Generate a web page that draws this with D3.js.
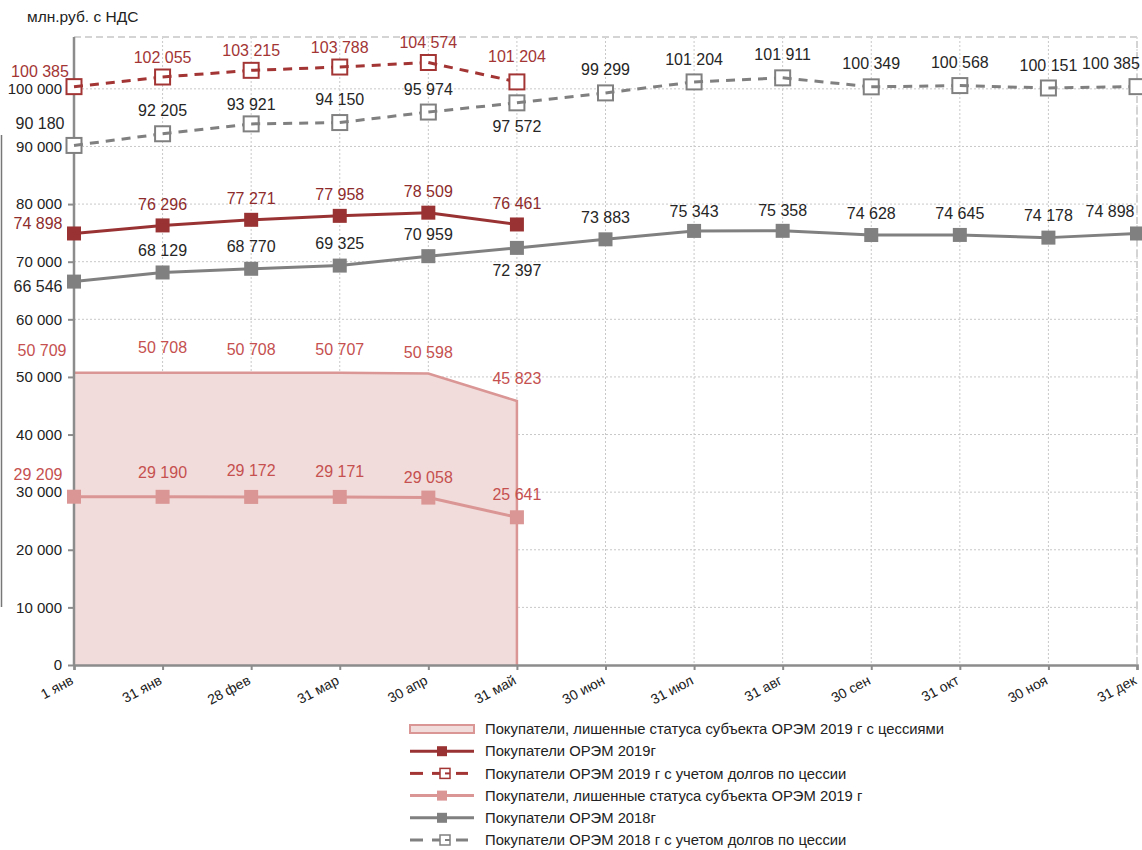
<!DOCTYPE html>
<html>
<head>
<meta charset="utf-8">
<script src="https://cdn.jsdelivr.net/npm/d3@7"></script>
<style>
  body { margin: 0; background: #fff; }
  svg { font-family: "Liberation Sans", Arial, sans-serif; }
</style>
</head>
<body>
<svg id="chart" width="1142" height="850"></svg>
<script>
// categories (x axis)
const months = ["1 янв", "31 янв", "28 фев", "31 мар", "30 апр", "31 май",
  "30 июн", "31 июл", "31 авг", "30 сен", "31 окт", "30 ноя", "31 дек"];

// series values, млн.руб. с НДС
const debtors2019Cess = [50709, 50708, 50708, 50707, 50598, 45823];
const orem2019 = [74898, 76296, 77271, 77958, 78509, 76461];
const orem2019Cess = [100385, 102055, 103215, 103788, 104574, 101204];
const debtors2019 = [29209, 29190, 29172, 29171, 29058, 25641];
const orem2018 = [66546, 68129, 68770, 69325, 70959, 72397, 73883, 75343, 75358, 74628, 74645, 74178, 74898];
const orem2018Cess = [90180, 92205, 93921, 94150, 95974, 97572, 99299, 101204, 101911, 100349, 100568, 100151, 100385];

// y ticks
const yTicks = [0, 10000, 20000, 30000, 40000, 50000, 60000, 70000, 80000, 90000, 100000];

const legendNames = [
  "Покупатели, лишенные статуса субъекта ОРЭМ 2019 г с цессиями",
  "Покупатели ОРЭМ 2019г",
  "Покупатели ОРЭМ 2019 г с учетом долгов по цессии",
  "Покупатели, лишенные статуса субъекта ОРЭМ 2019 г",
  "Покупатели ОРЭМ 2018г",
  "Покупатели ОРЭМ 2018 г с учетом долгов по цессии"
];

const svg = d3.select("#chart");
const plotL = 74, plotR = 1137, plotT = 37, plotB = 665;

const x = d3.scalePoint().domain(months).range([plotL, plotR]);
const y = d3.scaleLinear().domain([0, 109000]).range([plotB, plotT]);
const fmt = v => d3.format(",")(v).replace(/,/g, " ");

// title
svg.append("text").attr("x", 27).attr("y", 22)
  .style("font-size", "15.5px").style("fill", "#222").text("млн.руб. с НДС");

// stray frame line at left
svg.append("line").attr("x1", 1.5).attr("x2", 1.5).attr("y1", 135).attr("y2", 607)
  .style("stroke", "#777").style("stroke-width", 1.5);

// gridlines
svg.append("g").selectAll("line").data(yTicks.slice(1))
  .join("line")
  .attr("x1", plotL).attr("x2", plotR)
  .attr("y1", d => y(d)).attr("y2", d => y(d))
  .style("stroke", "#c8c8c8").style("stroke-dasharray", "2,2");
svg.append("g").selectAll("line").data(months.slice(1))
  .join("line")
  .attr("x1", d => x(d)).attr("x2", d => x(d))
  .attr("y1", plotT).attr("y2", plotB)
  .style("stroke", "#c8c8c8").style("stroke-dasharray", "2,2");

// plot border (top, right)
svg.append("path")
  .attr("d", `M${plotL},${plotT}H${plotR}V${plotB}`)
  .style("fill", "none").style("stroke", "#d4d4d4")
  .style("stroke-width", 2).style("stroke-dasharray", "7,4");

// area series
const areaPts = debtors2019Cess.map((v, i) => [x(months[i]), y(v)]);
svg.append("path")
  .datum(debtors2019Cess)
  .attr("d", d3.area().x((d, i) => x(months[i])).y0(y(0)).y1(d => y(d)))
  .style("fill", "#f2dcdb");
svg.append("path")
  .attr("d", d3.line()(areaPts.concat([[areaPts[areaPts.length - 1][0], y(0)]])))
  .style("fill", "none").style("stroke", "#d99694").style("stroke-width", 2.5);

// axes
const yAxis = svg.append("g").attr("transform", `translate(${plotL},0)`)
  .call(d3.axisLeft(y).tickValues(yTicks).tickFormat(fmt).tickSize(6).tickPadding(6));
yAxis.select(".domain").attr("d", `M0,${plotT}V${plotB}`);
const xAxis = svg.append("g").attr("transform", `translate(0,${plotB})`)
  .call(d3.axisBottom(x).tickSize(5).tickFormat(""));
[yAxis, xAxis].forEach(a => {
  a.select(".domain").style("stroke", "#8c8c8c").style("stroke-width", 2.5);
  a.selectAll(".tick line").style("stroke", "#8c8c8c").style("stroke-width", 2);
});
yAxis.selectAll(".tick text").style("font-size", "15px").style("fill", "#222")
  .style("font-family", "Liberation Sans, Arial, sans-serif");
svg.append("g").selectAll("text").data(months)
  .join("text")
  .attr("transform", d => `translate(${x(d) - 2},${plotB + 14}) rotate(-28)`)
  .attr("text-anchor", "end").attr("dy", "0.35em")
  .style("font-size", "14px").style("fill", "#222")
  .text(d => d);

// draw a line series with markers, segment-by-segment (marker then outgoing segment)
function series(values, opt) {
  const g = svg.append("g");
  const pts = values.map((v, i) => [x(months[i]), y(v)]);
  pts.forEach((p, i) => {
    const s = opt.size;
    g.append("rect")
      .attr("x", p[0] - s / 2).attr("y", p[1] - s / 2)
      .attr("width", s).attr("height", s)
      .style("fill", opt.open ? "#fff" : opt.color)
      .style("stroke", opt.color).style("stroke-width", opt.open ? 2 : 0);
    if (i < pts.length - 1) {
      g.append("line")
        .attr("x1", p[0]).attr("y1", p[1])
        .attr("x2", pts[i + 1][0]).attr("y2", pts[i + 1][1])
        .style("stroke", opt.color).style("stroke-width", 3)
        .style("stroke-dasharray", opt.dash || null);
    }
  });
  return g;
}

function labels(values, opt) {
  svg.append("g").selectAll("text").data(values)
    .join("text")
    .attr("x", (d, i) => x(months[i]) + ((opt.dx && opt.dx[i]) || 0))
    .attr("y", (d, i) => y(d) + ((opt.dy && opt.dy[i] !== undefined) ? opt.dy[i] : opt.dy0))
    .attr("text-anchor", "middle").attr("dy", "0.35em")
    .style("font-size", "16px").style("fill", opt.color)
    .text(d => fmt(d));
}

labels(debtors2019Cess, { color: "#c5504f", dy0: -23, dx: { 0: -32 }, dy: { 0: -22, 1: -25, 4: -21 } });

series(debtors2019, { color: "#da9694", size: 14 });
labels(debtors2019, { color: "#c5504f", dy0: -24, dx: { 0: -36 }, dy: { 0: -22, 2: -27, 3: -26, 4: -20, 5: -23 } });

series(orem2018, { color: "#808080", size: 14 });
labels(orem2018, { color: "#262626", dy0: -22, dx: { 0: -36, 12: -27 }, dy: { 0: 5, 5: 23, 7: -20, 8: -20 } });

series(orem2018Cess, { color: "#808080", size: 15, open: true, dash: "9,7" });
labels(orem2018Cess, { color: "#262626", dy0: -23, dx: { 0: -34, 12: -26 }, dy: { 0: -22, 2: -19, 5: 24 } });

series(orem2019, { color: "#993333", size: 14 });
labels(orem2019, { color: "#8e2c2c", dy0: -21, dx: { 0: -36 }, dy: { 0: -10 } });

series(orem2019Cess, { color: "#a33535", size: 15, open: true, dash: "9,7" });
labels(orem2019Cess, { color: "#a33535", dy0: -20, dx: { 0: -34 }, dy: { 0: -15, 5: -26 } });

// legend
const legend = svg.append("g");
const legendY = d => 729 + d * 22.2;
const lx0 = 410, lx1 = 474;
legendNames.forEach((name, i) => {
  const cy = legendY(i);
  const row = legend.append("g");
  if (i === 0) {
    row.append("rect").attr("x", lx0).attr("y", cy - 4).attr("width", lx1 - lx0).attr("height", 8)
      .style("fill", "#f2dcdb").style("stroke", "#d99694").style("stroke-width", 2);
  } else {
    const c = [null, "#993333", "#a33535", "#da9694", "#808080", "#808080"][i];
    const open = i === 2 || i === 5;
    const mx = 445;
    if (open) {
      row.append("line").attr("x1", lx0).attr("x2", 423).attr("y1", cy).attr("y2", cy)
        .style("stroke", c).style("stroke-width", 3);
      row.append("line").attr("x1", 432).attr("x2", 440).attr("y1", cy).attr("y2", cy)
        .style("stroke", c).style("stroke-width", 3);
      row.append("rect").attr("x", mx - 5).attr("y", cy - 5).attr("width", 10).attr("height", 10)
        .style("fill", "#fff").style("stroke", c).style("stroke-width", 1.5);
      row.append("line").attr("x1", mx).attr("x2", 450).attr("y1", cy).attr("y2", cy)
        .style("stroke", c).style("stroke-width", 2);
      row.append("line").attr("x1", 456).attr("x2", 468).attr("y1", cy).attr("y2", cy)
        .style("stroke", c).style("stroke-width", 3);
    } else {
      row.append("line").attr("x1", lx0).attr("x2", lx1).attr("y1", cy).attr("y2", cy)
        .style("stroke", c).style("stroke-width", 3);
      row.append("rect").attr("x", 437).attr("y", cy - 5).attr("width", 10).attr("height", 10)
        .style("fill", c);
    }
  }
  row.append("text").attr("x", 485).attr("y", cy).attr("dy", "0.35em")
    .style("font-size", "14.8px").style("fill", "#222").text(name);
});
</script>
</body>
</html>
